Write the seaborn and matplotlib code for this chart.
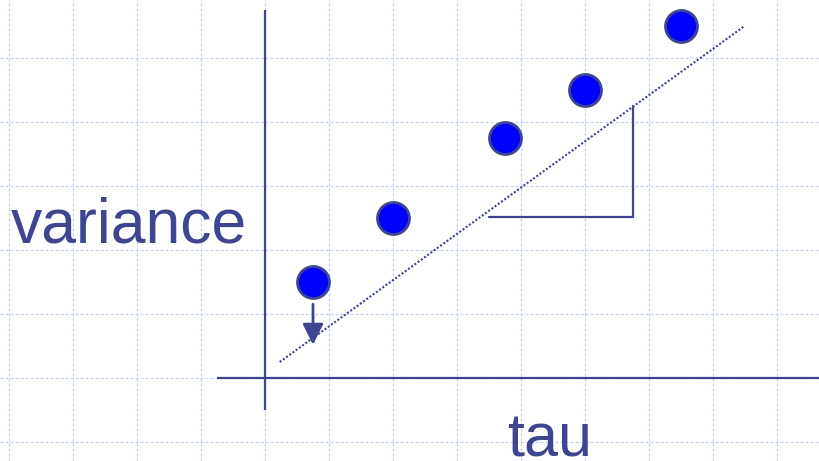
import matplotlib
matplotlib.use('Agg')
import matplotlib.pyplot as plt
import numpy as np
import pandas as pd
import seaborn as sns

# datos (unidades = celdas de la cuadricula, origen en el cruce de ejes)
tau = [0.75, 2.0, 3.75, 5.0, 6.5]
variance = [1.5, 2.5, 3.75, 4.5, 5.5]

# recta de ajuste (punteada)
fit_tau = [0.23, 7.48]
fit_var = [0.25, 5.49]

# triangulo de pendiente
tri_tau = [3.5, 5.745, 5.745]
tri_var = [2.51, 2.51, 4.25]

# flecha del primer punto hacia la recta
arrow_tip = (0.75, 0.52)

ink = '#3f4591'
grid_c = '#c4d0f6'

sns.set_style('white')
plt.rcParams['font.family'] = ['Liberation Sans', 'DejaVu Sans']

df = pd.DataFrame({'tau': tau, 'variance': variance})

fig = plt.figure(figsize=(8.19, 4.61), dpi=100)
ax = fig.add_axes([0, 0, 1, 1])
ax.set_xlim(-265 / 64, (819 - 265) / 64)
ax.set_ylim((378 - 461) / 64, 378 / 64)

# cuadricula de fondo
ax.set_xticks(np.arange(-4, 9))
ax.set_yticks(np.arange(-1, 6))
ax.grid(True, color=grid_c, linestyle=(0, (2.5, 1.5)), linewidth=0.9)
ax.tick_params(length=0, labelbottom=False, labelleft=False)
for s in ax.spines.values():
    s.set_visible(False)

# ejes
ax.plot([0, 0], [-0.5, 5.75], color=ink, lw=1.6, solid_capstyle='butt')
ax.plot([-0.75, 9], [0, 0], color=ink, lw=1.6, solid_capstyle='butt')

# recta punteada
sns.lineplot(x=fit_tau, y=fit_var, ax=ax, color=ink, lw=1.5,
             linestyle=(0, (1, 0.9)), estimator=None)

# triangulo
ax.plot(tri_tau, tri_var, color=ink, lw=1.6, solid_joinstyle='miter')

# flecha
ax.annotate('', xy=arrow_tip, xytext=(tau[0], variance[0]),
            arrowprops=dict(arrowstyle='-|>,head_length=0.9,head_width=0.45',
                            color=ink, lw=2, mutation_scale=14,
                            shrinkA=16, shrinkB=0))

# puntos
sns.scatterplot(data=df, x='tau', y='variance', ax=ax, s=530,
                color='#0000ff', edgecolor=ink, linewidth=2, zorder=5)

ax.set_xlabel('')
ax.set_ylabel('')

# etiquetas
ax.text(-2.125, 2.11, 'variance', color=ink, fontsize=45,
        ha='center', va='baseline')
ax.text(4.45, -1.22, 'tau', color=ink, fontsize=44,
        ha='center', va='baseline')

fig.savefig('out.png', dpi=100)
